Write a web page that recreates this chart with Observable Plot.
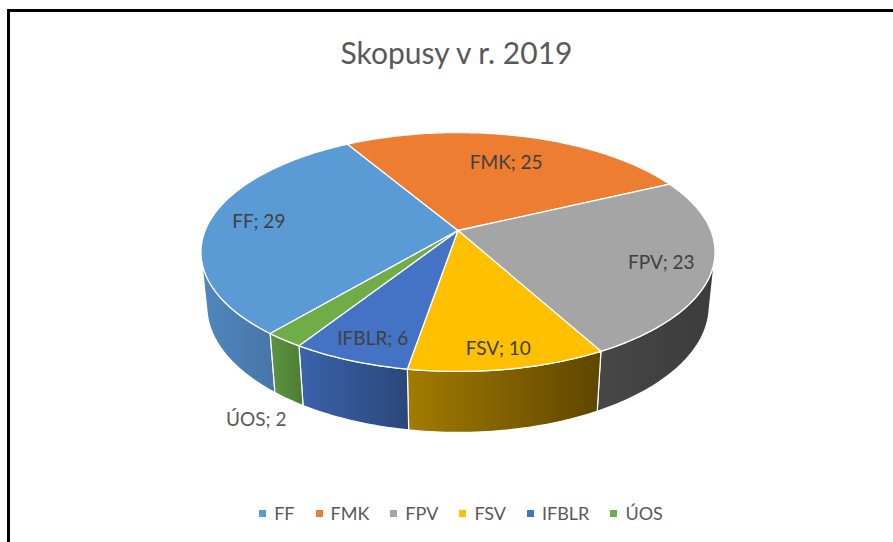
<!DOCTYPE html>
<html>
<head>
<meta charset="utf-8">
<script src="https://cdn.jsdelivr.net/npm/d3@7"></script>
<script src="https://cdn.jsdelivr.net/npm/@observablehq/plot@0.6"></script>
<style>
  html, body { margin: 0; padding: 0; background: #fff; }
  body { width: 893px; height: 542px; overflow: hidden; position: relative; font-family: Lato, "Open Sans", sans-serif; }
  #frame { position: absolute; left: 7px; top: 9px; width: 900px; height: 560px; border-top: 3px solid #000; border-left: 3px solid #000; box-sizing: border-box; }
  #title { position: absolute; left: 0; width: 913px; top: 37px; text-align: center; font-size: 30px; line-height: 30px; color: #595959; white-space: nowrap; }
  #chart { position: absolute; left: 0; top: 80px; }
  #legend { position: absolute; left: 0; width: 922px; top: 504px; display: flex; justify-content: center; gap: 21px; font-size: 18px; line-height: 18px; color: #595959; }
  #legend .item { display: flex; align-items: center; }
  #legend .sw { width: 7px; height: 7px; margin-right: 8px; }
</style>
</head>
<body>
<div id="frame"></div>
<div id="title">Skopusy v r. 2019</div>
<div id="chart"></div>
<div id="legend"></div>
<script>
// ---- data ----
const categories = ["FF", "FMK", "FPV", "FSV", "IFBLR", "ÚOS"];
const values = [29, 25, 23, 10, 6, 2];
const topColors = ["#5B9BD5", "#ED7D31", "#A5A5A5", "#FFC000", "#4472C4", "#70AD47"];
const sideLight = ["#5087bd", "#c96b29", "#474747", "#a37b00", "#3a63ac", "#5c9540"];
const sideDark  = ["#4776a7", "#a95920", "#3c3c3c", "#5e4600", "#2b4779", "#4d7e33"];
const labelColors = ["#404040", "#404040", "#404040", "#404040", "#404040", "#595959"];

// ---- layout (3D view) ----
const W = 893, H = 380;
const CX = 457.5, CY = 150;           // apex position inside the svg
const F = 1249;                        // focal length in px
const DIST = 4.94;                     // camera distance (pie radius = 1)
const ELEV = 27.2 * Math.PI / 180;     // elevation
const THICK = 0.2425;                  // pie thickness
const START = 219.8 * Math.PI / 180;   // first slice angle
const sE = Math.sin(ELEV), cE = Math.cos(ELEV);
// label placement: radius fraction, z (0 top, -THICK bottom), pixel offsets
const labelLayout = [
  {r: 0.80, z: 0, dx: 0, dy: -1, anchor: "middle"},
  {r: 0.68, z: 0, dx: 3, dy: 0, anchor: "middle"},
  {r: 0.80, z: 0, dx: 2, dy: 2, anchor: "middle"},
  {r: 0.88, z: 0, dx: -3, dy: 0, anchor: "middle"},
  {r: 0.85, z: 0, dx: 4, dy: 1, anchor: "middle"},
  {r: 1.00, z: -THICK, dx: -2, dy: 21, anchor: "end"}
];

function proj(a, r, z) {
  const X = r * Math.sin(a), Y = r * Math.cos(a);
  const yc = Y * sE + z * cE;
  const zc = DIST + Y * cE - z * sE;
  return {u: X / zc, v: yc / zc};
}

const arcs = d3.pie().sort(null).value(d => d).startAngle(START).endAngle(START + 2 * Math.PI)(values);

function arcPts(a0, a1, z) {
  const n = Math.max(2, Math.ceil(Math.abs(a1 - a0) / (Math.PI / 180)));
  const pts = [];
  for (let i = 0; i <= n; i++) pts.push(proj(a0 + (a1 - a0) * i / n, 1, z));
  return pts;
}

// visible wall range (outward normal facing camera)
const lo = Math.acos(-1 / (DIST * cE)), hi = 2 * Math.PI - lo;

const tops = [], walls = [];
arcs.forEach((arc, i) => {
  const a0 = arc.startAngle, a1 = arc.endAngle;
  const apex = proj(0, 0, 0);
  const tp = [apex, ...arcPts(a0, a1, 0), apex];
  tops.push(tp.map(p => ({...p, id: i})));
  for (const k of [0, 2 * Math.PI]) {
    const b0 = Math.max(a0, lo + k), b1 = Math.min(a1, hi + k);
    if (b1 > b0) {
      const up = arcPts(b0, b1, 0), dn = arcPts(b0, b1, -THICK).reverse();
      const poly = [...up, ...dn, up[0]];
      walls.push({i, pts: poly});
    }
  }
});

const labels = arcs.map((arc, i) => {
  const L = labelLayout[i];
  const mid = (arc.startAngle + arc.endAngle) / 2;
  const p = proj(mid, L.r, L.z);
  return {u: p.u + L.dx / F, v: p.v - L.dy / F, text: `${categories[i]}; ${values[i]}`, color: labelColors[i], anchor: L.anchor};
});

const defsMark = () => {
  const defs = d3.create("svg:defs");
  categories.forEach((c, i) => {
    const g = defs.append("linearGradient").attr("id", "side" + i)
      .attr("x1", 0).attr("x2", 1).attr("y1", 0).attr("y2", 0);
    g.append("stop").attr("offset", 0).attr("stop-color", sideLight[i]);
    g.append("stop").attr("offset", 1).attr("stop-color", sideDark[i]);
  });
  return defs.node();
};

const marks = [defsMark];
walls.forEach(w => {
  marks.push(Plot.line(w.pts, {x: "u", y: "v", fill: `url(#side${w.i})`, stroke: "white", strokeWidth: 1.2, strokeLinejoin: "round", curve: "linear"}));
});
tops.forEach((t, i) => {
  marks.push(Plot.line(t, {x: "u", y: "v", fill: topColors[i], stroke: "white", strokeWidth: 1.3, strokeLinejoin: "round", curve: "linear"}));
});
marks.push(Plot.text(labels.filter(d => d.anchor === "middle"), {x: "u", y: "v", text: "text", fill: "color", fontSize: 19, textAnchor: "middle"}));
marks.push(Plot.text(labels.filter(d => d.anchor === "end"), {x: "u", y: "v", text: "text", fill: "color", fontSize: 19, textAnchor: "end"}));

const chart = Plot.plot({
  width: W, height: H,
  margin: 0,
  x: {domain: [-CX / F, (W - CX) / F], range: [0, W], axis: null},
  y: {domain: [(CY - H) / F, CY / F], range: [H, 0], axis: null},
  color: {type: "identity"},
  style: {fontFamily: "Lato, 'Open Sans', sans-serif", background: "transparent", overflow: "visible"},
  marks
});
document.getElementById("chart").appendChild(chart);

const legend = document.getElementById("legend");
categories.forEach((c, i) => {
  const it = document.createElement("div");
  it.className = "item";
  const sw = document.createElement("span");
  sw.className = "sw";
  sw.style.background = topColors[i];
  const tx = document.createElement("span");
  tx.textContent = c;
  it.appendChild(sw); it.appendChild(tx);
  legend.appendChild(it);
});
</script>
</body>
</html>
